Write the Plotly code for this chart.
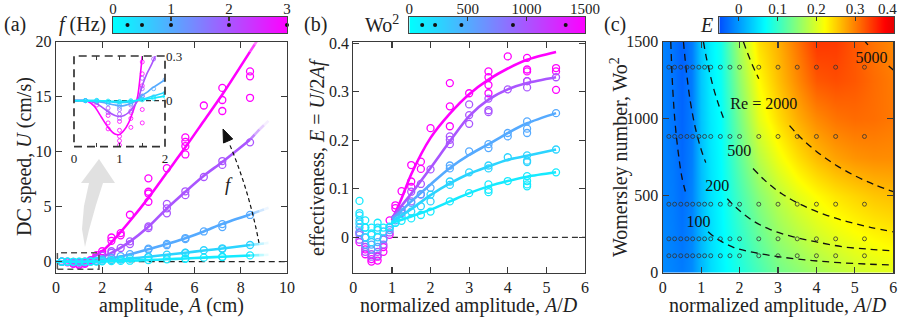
import plotly.graph_objects as go

# ======================= DATA =======================
freq_hz = [0.25, 0.5, 1, 2, 3]
wo2_values = [110, 220, 445, 885, 1335]

# ---- panel (a): measured DC speed U (cm/s) vs amplitude A (cm) ----
a_A_f025 = [0.25, 0.5, 0.75, 1.0, 1.25, 1.5, 1.75, 2.0, 2.4, 2.8, 3.2, 4.0, 4.8, 5.6, 5.6, 6.4, 7.2, 7.2, 8.4]
a_U_f025 = [0.0, 0.0, -0.01, 0.0, 0.0, 0.01, 0.02, 0.03, 0.05, 0.07, 0.09, 0.15, 0.22, 0.3, 0.27, 0.37, 0.46, 0.41, 0.57]
a_A_f05 = [0.25, 0.5, 0.75, 1.0, 1.25, 1.5, 1.75, 2.0, 2.4, 2.8, 3.2, 4.0, 4.0, 4.8, 5.6, 5.6, 6.4, 7.2, 7.2, 8.4]
a_U_f05 = [0.0, 0.0, -0.01, -0.02, 0.0, 0.02, 0.05, 0.09, 0.14, 0.2, 0.28, 0.45, 0.42, 0.64, 0.83, 0.79, 1.04, 1.22, 1.15, 1.52]
a_A_f1 = [0.25, 0.5, 0.75, 1.0, 1.25, 1.5, 1.75, 2.0, 2.4, 2.8, 3.2, 4.0, 4.0, 4.8, 4.8, 5.6, 5.6, 6.4, 7.2, 7.2, 8.4]
a_U_f1 = [0.0, -0.01, -0.02, -0.04, -0.02, 0.03, 0.1, 0.21, 0.35, 0.5, 0.68, 1.18, 1.1, 1.62, 1.5, 2.15, 2.05, 2.75, 3.42, 3.15, 4.25]
a_A_f2 = [0.25, 0.5, 0.75, 1.0, 1.25, 1.5, 1.75, 2.0, 2.4, 2.4, 2.8, 3.2, 3.2, 4.0, 4.0, 4.8, 4.8, 4.8, 5.6, 5.6, 6.4, 7.2, 7.2, 8.4]
a_U_f2 = [0.0, -0.02, -0.07, -0.1, -0.07, 0.08, 0.3, 0.55, 0.95, 0.8, 1.25, 1.85, 1.6, 3.2, 3.05, 5.25, 4.85, 4.4, 6.4, 6.05, 7.7, 9.15, 8.8, 10.85]
a_A_f3 = [0.25, 0.5, 0.75, 0.75, 1.0, 1.0, 1.25, 1.25, 1.5, 1.75, 1.75, 2.0, 2.0, 2.4, 2.4, 2.8, 2.8, 3.2,
          4.0, 4.0, 4.0, 4.0, 4.8, 5.6, 5.6, 5.6, 5.6, 6.4, 7.2, 7.2, 7.2, 8.4, 8.4, 8.4]
a_U_f3 = [0.0, -0.05, -0.15, -0.2, -0.25, -0.3, -0.12, -0.2, 0.15, 0.6, 0.4, 0.95, 0.7, 2.2, 1.9, 2.6, 2.4, 4.27,
          7.58, 6.36, 6.2, 5.45, 8.5, 11.3, 10.9, 10.5, 9.75, 14.2, 15.8, 14.7, 13.7, 17.3, 16.85, 14.9]

# fitted curves, panel (a)
a_fit_A = [0, 0.5, 0.75, 1.0, 1.25, 1.5, 2.0, 2.4, 3.2, 4.0, 4.8, 5.6, 6.4, 7.2, 8.4]
a_fit_U_f025 = [0, 0, 0, -0.006, -0.002, 0.01, 0.03, 0.052, 0.091, 0.148, 0.22, 0.297, 0.371, 0.454, 0.563]
a_fit_U_f05 = [0, 0, -0.005, -0.015, -0.008, 0.015, 0.06, 0.12, 0.28, 0.444, 0.634, 0.818, 1.02, 1.2, 1.52]
a_fit_U_f1 = [0, -0.005, -0.02, -0.036, -0.025, 0.035, 0.16, 0.3, 0.68, 1.14, 1.6, 2.14, 2.75, 3.44, 4.3]
a_fit_U_f2 = [0, -0.02, -0.06, -0.1, -0.07, 0.1, 0.45, 0.8, 1.83, 3.17, 4.84, 6.36, 7.81, 9.07, 11.09]
a_fit_U_f3 = [0, -0.04, -0.17, -0.23, -0.14, 0.3, 0.95, 1.75, 3.7, 5.8, 8.1, 10.4, 12.8, 15.2, 19.1]
# faded extension of the fits
a_ext_A = [8.4, 8.6, 8.8, 9.0, 9.2]
a_ext_U_f025 = [0.563, 0.58, 0.6, 0.615, 0.63]
a_ext_U_f05 = [1.52, 1.56, 1.61, 1.66, 1.71]
a_ext_U_f1 = [4.3, 4.45, 4.6, 4.75, 4.9]
a_ext_U_f2 = [11.09, 11.55, 12.0, 12.4, 12.8]
a_ext_U_f3 = [19.1, 19.75, 20.4, 21.0, 21.6]

# inset of panel (a)
in_fit_A = [0, 0.2, 0.3, 0.45, 0.6, 0.75, 0.9, 1.0, 1.1, 1.2, 1.3, 1.4, 1.5, 1.6, 1.7, 1.8, 2.0]
in_fit_U_f025 = [0, 0, 0, 0, -0.001, -0.003, -0.005, -0.006, -0.005, -0.003, -0.001, 0.002, 0.006, 0.01, 0.015, 0.02, 0.03]
in_fit_U_f05 = [0, 0, 0, 0, -0.003, -0.008, -0.012, -0.014, -0.013, -0.009, -0.004, 0.003, 0.01, 0.018, 0.027, 0.036, 0.055]
in_fit_U_f1 = [0, 0, 0, -0.004, -0.01, -0.02, -0.03, -0.035, -0.034, -0.025, -0.012, 0.003, 0.035, 0.055, 0.08, 0.1, 0.14]
in_fit_U_f2 = [0, 0, -0.003, -0.015, -0.04, -0.075, -0.1, -0.107, -0.1, -0.08, -0.045, 0.0, 0.1, 0.18, 0.24, 0.31, 0.45]
in_fit_U_f3 = [0, 0, -0.005, -0.04, -0.11, -0.18, -0.225, -0.228, -0.2, -0.15, -0.07, 0.03, 0.3, 0.6, 0.9, 1.2, 1.8]
in_A_f025 = [0.25, 0.5, 0.75, 1.0, 1.25, 1.5, 1.75, 2.0]
in_U_f025 = [0.0, 0.002, -0.003, -0.006, 0.0, 0.005, 0.015, 0.03]
in_A_f05 = [0.25, 0.5, 0.75, 1.0, 1.25, 1.5, 1.75, 2.0]
in_U_f05 = [0.0, 0.0, -0.008, -0.012, -0.005, 0.01, 0.025, 0.05]
in_A_f1 = [0.25, 0.5, 0.75, 1.0, 1.0, 1.25, 1.25, 1.5, 1.75, 2.0]
in_U_f1 = [0.0, -0.005, -0.02, -0.03, -0.045, -0.02, -0.01, 0.03, 0.08, 0.14]
in_A_f2 = [0.25, 0.5, 0.75, 0.75, 1.0, 1.0, 1.0, 1.25, 1.25, 1.5, 1.5, 1.75]
in_U_f2 = [0.0, -0.01, -0.05, -0.08, -0.09, -0.12, -0.06, -0.07, -0.03, 0.08, 0.15, 0.28]
in_A_f3 = [0.25, 0.5, 0.75, 0.75, 0.75, 1.0, 1.0, 1.0, 1.0, 1.0, 1.25, 1.25, 1.25, 1.5, 1.5, 1.5, 1.5, 1.5, 1.5]
in_U_f3 = [0.0, -0.03, -0.1, -0.15, -0.19, -0.14, -0.2, -0.24, -0.27, -0.3, -0.18, -0.08, -0.12, 0.26, 0.18, 0.1, 0.03, -0.06, -0.15]

# ---- panel (b): effectiveness E vs normalized amplitude A/D ----
b_AD_f025 = [0.16, 0.16, 0.31, 0.31, 0.47, 0.47, 0.63, 0.63, 0.78, 0.94, 1.09, 1.25, 1.5, 1.75, 2.0, 2.5, 3.0, 3.5, 3.5, 3.5, 4.0, 4.5, 4.5, 4.5, 4.5, 5.25]
b_E_f025 = [0.075, 0.05, 0.035, 0.02, 0.02, 0.008, 0.03, 0.015, 0.02, 0.022, 0.03, 0.034, 0.039, 0.046, 0.053, 0.074, 0.091, 0.109, 0.098, 0.093, 0.116, 0.126, 0.116, 0.109, 0.105, 0.134]
b_AD_f05 = [0.16, 0.16, 0.16, 0.31, 0.31, 0.47, 0.47, 0.63, 0.63, 0.78, 0.94, 1.09, 1.25, 1.5, 1.75, 2.0, 2.0, 2.5, 2.5, 3.0, 3.5, 3.5, 4.0, 4.5, 4.5, 4.5, 5.25]
b_E_f05 = [0.045, 0.035, 0.028, 0.02, 0.0, 0.005, -0.01, 0.02, 0.0, 0.012, 0.02, 0.03, 0.043, 0.053, 0.064, 0.088, 0.074, 0.115, 0.108, 0.134, 0.148, 0.142, 0.165, 0.169, 0.158, 0.155, 0.181]
b_AD_f1 = [0.16, 0.16, 0.31, 0.31, 0.47, 0.47, 0.63, 0.63, 0.78, 0.94, 1.09, 1.25, 1.5, 1.75, 2.0, 2.5, 2.5, 3.0, 3.5, 3.5, 4.0, 4.0, 4.5, 4.5, 4.5, 5.25]
b_E_f1 = [0.02, 0.01, 0.0, -0.015, -0.015, -0.025, -0.01, -0.02, -0.003, 0.015, 0.035, 0.053, 0.071, 0.089, 0.102, 0.148, 0.142, 0.177, 0.192, 0.184, 0.215, 0.208, 0.239, 0.224, 0.215, 0.256]
b_AD_f2 = [0.16, 0.16, 0.31, 0.31, 0.47, 0.47, 0.63, 0.63, 0.78, 0.78, 0.94, 0.94, 1.09, 1.25, 1.25, 1.5, 1.5, 1.75, 1.75, 2.0,
           2.5, 2.5, 2.5, 3.0, 3.0, 3.0, 3.5, 3.5, 3.5, 4.0, 4.5, 4.5, 5.25]
b_E_f2 = [0.005, -0.005, -0.02, -0.03, -0.035, -0.04, -0.03, -0.038, -0.015, -0.005, 0.01, 0.02, 0.04, 0.057, 0.05, 0.094, 0.074, 0.11, 0.088, 0.14,
          0.208, 0.201, 0.192, 0.274, 0.252, 0.234, 0.286, 0.262, 0.258, 0.305, 0.322, 0.309, 0.33]
b_AD_f3 = [0.16, 0.16, 0.31, 0.31, 0.47, 0.47, 0.63, 0.63, 0.78, 0.78, 0.94, 0.94, 1.09, 1.09, 1.25, 1.5, 1.5, 1.5, 1.75, 1.75, 2.0,
           2.5, 2.5, 2.5, 3.0, 3.5, 3.5, 3.5, 3.5, 4.0, 4.5, 4.5, 4.5, 4.5, 5.25, 5.25, 5.25]
b_E_f3 = [0.01, -0.01, -0.025, -0.035, -0.045, -0.05, -0.04, -0.048, -0.02, -0.03, 0.005, 0.035, 0.06, 0.066, 0.095, 0.149, 0.115, 0.104, 0.156, 0.141, 0.225,
          0.318, 0.27, 0.229, 0.297, 0.342, 0.330, 0.314, 0.297, 0.373, 0.37, 0.346, 0.342, 0.322, 0.349, 0.342, 0.304]
b_fit_AD = [1.0, 1.25, 1.5, 2.0, 2.5, 3.0, 3.5, 4.0, 4.5, 5.25]
b_fit_E_f025 = [0.03, 0.036, 0.043, 0.057, 0.074, 0.091, 0.105, 0.116, 0.125, 0.134]
b_fit_E_f05 = [0.033, 0.045, 0.058, 0.087, 0.111, 0.131, 0.146, 0.16, 0.168, 0.181]
b_fit_E_f1 = [0.038, 0.055, 0.074, 0.109, 0.143, 0.17, 0.192, 0.215, 0.235, 0.256]
b_fit_E_f2 = [0.04, 0.065, 0.09, 0.143, 0.198, 0.25, 0.284, 0.305, 0.318, 0.33]
b_fit_E_f3 = [0.035, 0.08, 0.13, 0.205, 0.255, 0.295, 0.325, 0.348, 0.366, 0.382]

# ---- panel (c): E map over (A/D, Wo^2) ----
c_AD = [0, 0.25, 0.5, 0.75, 1.0, 1.25, 1.5, 2.0, 2.5, 3.0, 3.5, 4.0, 4.5, 5.0, 5.5, 6.0]
c_Wo2 = [0, 250, 500, 750, 1000, 1250, 1500]
c_E = [
    [-0.01, -0.015, -0.02, -0.01, 0.02, 0.045, 0.06, 0.085, 0.11, 0.135, 0.15, 0.165, 0.178, 0.19, 0.198, 0.205],
    [-0.012, -0.018, -0.025, -0.012, 0.02, 0.047, 0.063, 0.097, 0.13, 0.158, 0.178, 0.195, 0.208, 0.218, 0.226, 0.232],
    [-0.015, -0.02, -0.03, -0.015, 0.022, 0.05, 0.066, 0.11, 0.15, 0.18, 0.205, 0.222, 0.236, 0.246, 0.255, 0.26],
    [-0.015, -0.022, -0.033, -0.018, 0.025, 0.052, 0.068, 0.125, 0.178, 0.212, 0.24, 0.262, 0.277, 0.286, 0.29, 0.29],
    [-0.015, -0.025, -0.035, -0.02, 0.028, 0.055, 0.07, 0.14, 0.205, 0.24, 0.27, 0.292, 0.305, 0.31, 0.308, 0.302],
    [-0.015, -0.025, -0.037, -0.02, 0.03, 0.058, 0.075, 0.155, 0.222, 0.258, 0.292, 0.322, 0.328, 0.322, 0.31, 0.30],
    [-0.015, -0.025, -0.038, -0.02, 0.032, 0.06, 0.08, 0.17, 0.24, 0.268, 0.305, 0.342, 0.34, 0.322, 0.305, 0.292],
]
c_meas_AD = [0.16, 0.31, 0.47, 0.63, 0.78, 0.94, 1.09, 1.25, 1.5, 1.75, 2.0, 2.5, 3.0, 3.5, 4.0, 4.5, 5.25]
# constant-Re curves (A/D, Wo^2); None = gap behind the label
re100_AD = [0.21, 0.26, 0.32, 0.4, 0.5, 0.62, None, 1.18, 1.4, 1.84, 2.4, 3.1, 3.9, 4.6, 5.4, 6.0]
re100_Wo2 = [1500, 1200, 980, 790, 620, 500, None, 266, 222, 165, 130, 101, 79, 65, 55, 50]
re200_AD = [0.54, 0.62, 0.72, 0.85, 1.0, 1.12, None, 1.68, 1.9, 2.3, 2.8, 3.4, 4.0, 4.7, 5.4, 6.0]
re200_Wo2 = [1500, 1300, 1110, 940, 800, 715, None, 480, 425, 345, 280, 233, 200, 168, 152, 142]
re500_AD = [1.06, 1.15, 1.3, 1.45, 1.62, None, 2.35, 2.7, 3.1, 3.6, 4.2, 4.8, 5.4, 6.0]
re500_Wo2 = [1500, 1380, 1220, 1095, 980, None, 677, 590, 513, 442, 379, 332, 295, 266]
re2000_AD = [2.1, 2.2, 2.35, 2.5, None, 3.3, 3.6, 4.0, 4.5, 5.0, 5.5, 6.0]
re2000_Wo2 = [1500, 1432, 1340, 1260, None, 955, 875, 788, 700, 630, 573, 526]
re5000_AD = [5.27, 5.34, None, 5.88, 6.0]
re5000_Wo2 = [1500, 1480, None, 1342, 1316]
re_labels = ["100", "200", "500", "Re = 2000", "5000"]
re_label_AD = [0.93, 1.42, 1.99, 2.63, 5.43]
re_label_Wo2 = [323, 556, 783, 1086, 1389]

# colour-bar tick values
cb_f_ticks = [0, 1, 2, 3]
cb_wo2_ticks = [0, 500, 1000, 1500]
cb_E_ticks = [-0.05, 0, 0.1, 0.2, 0.3, 0.4]

# ======================= STYLE =======================
FONT = "Liberation Serif, Times New Roman, serif"
AXC = "#3a3a3a"
TXT = "#222222"
series_colors = ["rgb(21,234,255)", "rgb(43,212,255)", "rgb(85,170,255)", "rgb(170,85,255)", "rgb(255,0,255)"]
series_rgb = [(21, 234, 255), (43, 212, 255), (85, 170, 255), (170, 85, 255), (255, 0, 255)]
cool_scale = [[0, "rgb(0,255,255)"], [1, "rgb(255,0,255)"]]
jet_scale = [[0.0, "rgb(0,80,255)"], [0.262, "rgb(0,255,255)"], [0.432, "rgb(128,255,128)"],
             [0.602, "rgb(255,255,0)"], [0.944, "rgb(255,0,0)"], [1.0, "rgb(228,0,0)"]]

W, H = 900, 318
def fx(x): return x / W
def fy(y): return 1 - y / H
def path(points, close=True):
    s = "M " + " L ".join(f"{fx(x):.5f},{fy(y):.5f}" for x, y in points)
    return s + (" Z" if close else "")

fig = go.Figure()

a_pts = [(a_A_f025, a_U_f025), (a_A_f05, a_U_f05), (a_A_f1, a_U_f1), (a_A_f2, a_U_f2), (a_A_f3, a_U_f3)]
a_fits = [a_fit_U_f025, a_fit_U_f05, a_fit_U_f1, a_fit_U_f2, a_fit_U_f3]
a_exts = [a_ext_U_f025, a_ext_U_f05, a_ext_U_f1, a_ext_U_f2, a_ext_U_f3]
in_pts = [(in_A_f025, in_U_f025), (in_A_f05, in_U_f05), (in_A_f1, in_U_f1), (in_A_f2, in_U_f2), (in_A_f3, in_U_f3)]
in_fits = [in_fit_U_f025, in_fit_U_f05, in_fit_U_f1, in_fit_U_f2, in_fit_U_f3]
b_pts = [(b_AD_f025, b_E_f025), (b_AD_f05, b_E_f05), (b_AD_f1, b_E_f1), (b_AD_f2, b_E_f2), (b_AD_f3, b_E_f3)]
b_fits = [b_fit_E_f025, b_fit_E_f05, b_fit_E_f1, b_fit_E_f2, b_fit_E_f3]

order = [4, 3, 2, 1, 0]
fade = [0.75, 0.5, 0.28, 0.1]

# ---- panel (a) ----
for i in order:
    col = series_colors[i]
    r, g, b = series_rgb[i]
    fig.add_trace(go.Scatter(x=a_pts[i][0], y=a_pts[i][1], mode="markers", xaxis="x", yaxis="y",
                             marker=dict(symbol="circle-open", size=7, color=col, line=dict(width=1.3, color=col)),
                             hoverinfo="skip"))
    fig.add_trace(go.Scatter(x=a_fit_A, y=a_fits[i], mode="lines", xaxis="x", yaxis="y",
                             line=dict(color=col, width=2.6, shape="spline", smoothing=0.8), hoverinfo="skip"))
    for k in range(len(a_ext_A) - 1):
        fig.add_trace(go.Scatter(x=a_ext_A[k:k + 2], y=a_exts[i][k:k + 2], mode="lines", xaxis="x", yaxis="y",
                                 line=dict(color=f"rgba({r},{g},{b},{fade[k]})", width=2.6), hoverinfo="skip"))
# inset
for i in order:
    col = series_colors[i]
    fig.add_trace(go.Scatter(x=in_pts[i][0], y=in_pts[i][1], mode="markers", xaxis="x4", yaxis="y4",
                             marker=dict(symbol="circle-open", size=4, color=col, line=dict(width=0.8, color=col)),
                             hoverinfo="skip"))
    fig.add_trace(go.Scatter(x=in_fit_A, y=in_fits[i], mode="lines", xaxis="x4", yaxis="y4",
                             line=dict(color=col, width=1.6, shape="spline", smoothing=0.7), hoverinfo="skip"))

# ---- panel (b) ----
for i in order:
    col = series_colors[i]
    fig.add_trace(go.Scatter(x=b_pts[i][0], y=b_pts[i][1], mode="markers", xaxis="x2", yaxis="y2",
                             marker=dict(symbol="circle-open", size=7, color=col, line=dict(width=1.3, color=col)),
                             hoverinfo="skip"))
for i in order:
    col = series_colors[i]
    fig.add_trace(go.Scatter(x=b_fit_AD, y=b_fits[i], mode="lines", xaxis="x2", yaxis="y2",
                             line=dict(color=col, width=2.6, shape="spline", smoothing=0.8), hoverinfo="skip"))

# ---- panel (c) ----
fig.add_trace(go.Heatmap(x=c_AD, y=c_Wo2, z=c_E, zmin=-0.05, zmax=0.4, colorscale=jet_scale,
                         zsmooth="best", showscale=False, xaxis="x3", yaxis="y3", hoverinfo="skip"))
for cx, cy in [(re100_AD, re100_Wo2), (re200_AD, re200_Wo2), (re500_AD, re500_Wo2),
               (re2000_AD, re2000_Wo2), (re5000_AD, re5000_Wo2)]:
    fig.add_trace(go.Scatter(x=cx, y=cy, mode="lines", xaxis="x3", yaxis="y3", connectgaps=False,
                             line=dict(color="#111", width=1.3, dash="7px,5px", shape="spline"), hoverinfo="skip"))
mx, my = [], []
for w in wo2_values:
    for ad in c_meas_AD:
        mx.append(ad)
        my.append(w)
fig.add_trace(go.Scatter(x=mx, y=my, mode="markers", xaxis="x3", yaxis="y3",
                         marker=dict(symbol="circle-open", size=4, color="#333", line=dict(width=0.8, color="#333")),
                         hoverinfo="skip"))
fig.add_trace(go.Scatter(x=re_label_AD, y=re_label_Wo2, mode="text", text=re_labels, xaxis="x3", yaxis="y3",
                         textfont=dict(family=FONT, size=16, color="#111"), hoverinfo="skip"))

# ---- colour bars ----
fig.add_trace(go.Heatmap(x=cb_f_ticks, y=[0, 1], z=[cb_f_ticks, cb_f_ticks], zmin=0, zmax=3, colorscale=cool_scale,
                         zsmooth="best", showscale=False, xaxis="x5", yaxis="y5", hoverinfo="skip"))
fig.add_trace(go.Scatter(x=freq_hz, y=[0.5] * len(freq_hz), mode="markers", xaxis="x5", yaxis="y5", cliponaxis=False,
                         marker=dict(size=4, color="#111"), hoverinfo="skip"))
fig.add_trace(go.Heatmap(x=cb_wo2_ticks, y=[0, 1], z=[cb_wo2_ticks, cb_wo2_ticks], zmin=0, zmax=1500, colorscale=cool_scale,
                         zsmooth="best", showscale=False, xaxis="x6", yaxis="y6", hoverinfo="skip"))
fig.add_trace(go.Scatter(x=wo2_values, y=[0.5] * len(wo2_values), mode="markers", xaxis="x6", yaxis="y6", cliponaxis=False,
                         marker=dict(size=4, color="#111"), hoverinfo="skip"))
fig.add_trace(go.Heatmap(x=cb_E_ticks, y=[0, 1], z=[cb_E_ticks, cb_E_ticks], zmin=-0.05, zmax=0.4, colorscale=jet_scale,
                         zsmooth="best", showscale=False, xaxis="x7", yaxis="y7", hoverinfo="skip"))

# ======================= AXES =======================
def frame(domain, rng, tickvals, anchor, ticktext=None, size=16):
    d = dict(domain=domain, range=rng, tickvals=tickvals, anchor=anchor, showline=True, linecolor=AXC,
             linewidth=1.2, mirror="ticks", ticks="inside", ticklen=6, tickwidth=1.2, tickcolor=AXC,
             showgrid=False, zeroline=False, automargin=False,
             tickfont=dict(family=FONT, size=size, color=TXT), fixedrange=True)
    if ticktext is not None:
        d["ticktext"] = ticktext
    return d

ydom = [fy(272.7), fy(41.7)]
cb_ydom = [fy(33), fy(17)]

def cbx(domain, rng, tickvals, anchor, ticktext=None):
    d = dict(domain=domain, range=rng, tickvals=tickvals, anchor=anchor, side="top", showline=True, linecolor="#444",
             linewidth=1, mirror=True, ticks="inside", ticklen=4, tickwidth=1.2, tickcolor="#333",
             showgrid=False, zeroline=False, automargin=False, ticklabelstandoff=-4,
             tickfont=dict(family=FONT, size=15, color=TXT), fixedrange=True)
    if ticktext is not None:
        d["ticktext"] = ticktext
    return d

def cby(anchor):
    return dict(domain=cb_ydom, range=[0, 1], anchor=anchor, showline=True, linecolor="#444", linewidth=1,
                mirror=True, ticks="", showticklabels=False, showgrid=False, zeroline=False,
                automargin=False, fixedrange=True)

fig.update_layout(
    width=W, height=H, margin=dict(l=0, r=0, t=0, b=0, pad=0, autoexpand=False), showlegend=False,
    paper_bgcolor="white", plot_bgcolor="white", font=dict(family=FONT, size=16, color=TXT),
    xaxis=frame([fx(56), fx(287)], [0, 10], [0, 2, 4, 6, 8, 10], "y"),
    yaxis=frame(ydom, [-1, 20], [0, 5, 10, 15, 20], "x"),
    xaxis2=frame([fx(353.3), fx(585)], [0, 6], [0, 1, 2, 3, 4, 5, 6], "y2"),
    yaxis2=frame(ydom, [-0.073, 0.4033], [0, 0.1, 0.2, 0.3, 0.4], "x2", ["0", "0.1", "0.2", "0.3", "0.4"]),
    xaxis3=frame([fx(662.7), fx(893.3)], [0, 6], [0, 1, 2, 3, 4, 5, 6], "y3"),
    yaxis3=frame(ydom, [0, 1500.5], [0, 500, 1000, 1500], "x3"),
    xaxis4=dict(domain=[fx(74), fx(165)], range=[0, 2], anchor="y4", tickvals=[0, 1, 2],
                minor=dict(tickvals=[0.5, 1.5], ticks="inside", ticklen=4, tickwidth=1.2, tickcolor=AXC),
                showline=True, linecolor="rgba(0,0,0,0)", mirror="ticks",
                ticks="inside", ticklen=4, tickwidth=1.2, tickcolor=AXC, showgrid=False, zeroline=False,
                automargin=False, tickfont=dict(family=FONT, size=13, color=TXT), fixedrange=True),
    yaxis4=dict(domain=[fy(146.7), fy(56)], range=[-0.31, 0.3], anchor="x4", side="right", tickvals=[0, 0.3],
                ticktext=["0", "0.3"], showline=False, ticks="", showgrid=False, zeroline=False,
                automargin=False, tickfont=dict(family=FONT, size=13, color=TXT), fixedrange=True),
    xaxis5=cbx([fx(113), fx(287)], [0, 3], cb_f_ticks, "y5"),
    yaxis5=cby("x5"),
    xaxis6=cbx([fx(409.3), fx(585)], [0, 1500], cb_wo2_ticks, "y6"),
    yaxis6=cby("x6"),
    xaxis7=cbx([fx(719.3), fx(894)], [-0.05, 0.4], [0, 0.1, 0.2, 0.3], "y7", ["0", "0.1", "0.2", "0.3"]),
    yaxis7=cby("x7"),
)

# ======================= DECORATIONS =======================
shapes = []
shapes.append(dict(type="line", xref="x", yref="y", x0=1.85, x1=10, y0=0, y1=0,
                   line=dict(color="#222", width=1.2, dash="6px,4px"), layer="below"))
shapes.append(dict(type="line", xref="x2", yref="y2", x0=1.0, x1=6, y0=0, y1=0,
                   line=dict(color="#333", width=1.2, dash="6px,4px"), layer="below"))
shapes.append(dict(type="line", xref="x4", yref="y4", x0=0, x1=2, y0=0, y1=0,
                   line=dict(color="#333", width=1.1, dash="5px,3px"), layer="below"))
shapes.append(dict(type="rect", xref="x", yref="y", x0=0.06, x1=1.86, y0=-0.68, y1=0.82,
                   line=dict(color="#555", width=1.5, dash="6px,4px")))
shapes.append(dict(type="rect", xref="x4 domain", yref="y4 domain", x0=0, x1=1, y0=0, y1=1,
                   line=dict(color="#333", width=1.7, dash="8px,5px")))
shapes.append(dict(type="path", xref="paper", yref="paper",
                   path=path([(85, 247), (89, 230), (96, 205), (103, 183), (115, 183), (99, 159),
                              (81, 183), (89, 183), (84, 206), (82, 229)]),
                   fillcolor="rgba(200,200,200,0.55)", line=dict(width=0)))
shapes.append(dict(type="path", xref="paper", yref="paper",
                   path=f"M {fx(259):.5f},{fy(243):.5f} Q {fx(249):.5f},{fy(190):.5f} {fx(229):.5f},{fy(143):.5f}",
                   line=dict(color="#111", width=1.2, dash="4px,3px")))
shapes.append(dict(type="path", xref="paper", yref="paper",
                   path=path([(223, 129), (232.7, 139.0), (223.5, 143.0)]),
                   fillcolor="#111", line=dict(color="#111", width=1)))
fig.update_layout(shapes=shapes)

ann = []
def text(x, y, s, size=20, angle=0):
    ann.append(dict(x=fx(x), y=fy(y), xref="paper", yref="paper", text=s, showarrow=False,
                    xanchor="center", yanchor="middle", textangle=angle,
                    font=dict(family=FONT, size=size, color=TXT)))

text(15, 25, "(a)")
text(315, 25, "(b)")
text(615, 25, "(c)")
text(82, 25, "<i>f</i> (Hz)")
text(382, 24, "Wo<sup>2</sup>")
text(706, 25, "<i>E</i>")
text(229, 184, "<i>f</i>", size=19)
text(171.5, 305, "amplitude, <i>A</i> (cm)")
text(469, 305, "normalized amplitude, <i>A</i>/<i>D</i>")
text(778, 305, "normalized amplitude, <i>A</i>/<i>D</i>")
text(24, 157, "DC speed, <i>U</i> (cm/s)", angle=-90)
text(317, 157, "effectiveness, <i>E</i> = <i>U</i>/2<i>Af</i>", angle=-90)
text(619, 157, "Womersley number, Wo<sup>2</sup>", angle=-90)
# last colour-bar label of (c), pulled inside the page edge as in the original
ann.append(dict(x=fx(887), y=fy(9), xref="paper", yref="paper", text="0.4", showarrow=False,
                xanchor="center", yanchor="middle", font=dict(family=FONT, size=15, color=TXT)))
fig.update_layout(annotations=ann)

page_fix = ("document.documentElement.style.margin='0';document.body.style.margin='0';"
            "document.body.style.padding='0';document.body.style.overflow='hidden';"
            "var d=document.getElementById('{plot_id}');d.style.position='fixed';d.style.left='0px';d.style.top='0px';")
fig.write_html("out.html", post_script=page_fix, config={"displayModeBar": False, "staticPlot": True})
